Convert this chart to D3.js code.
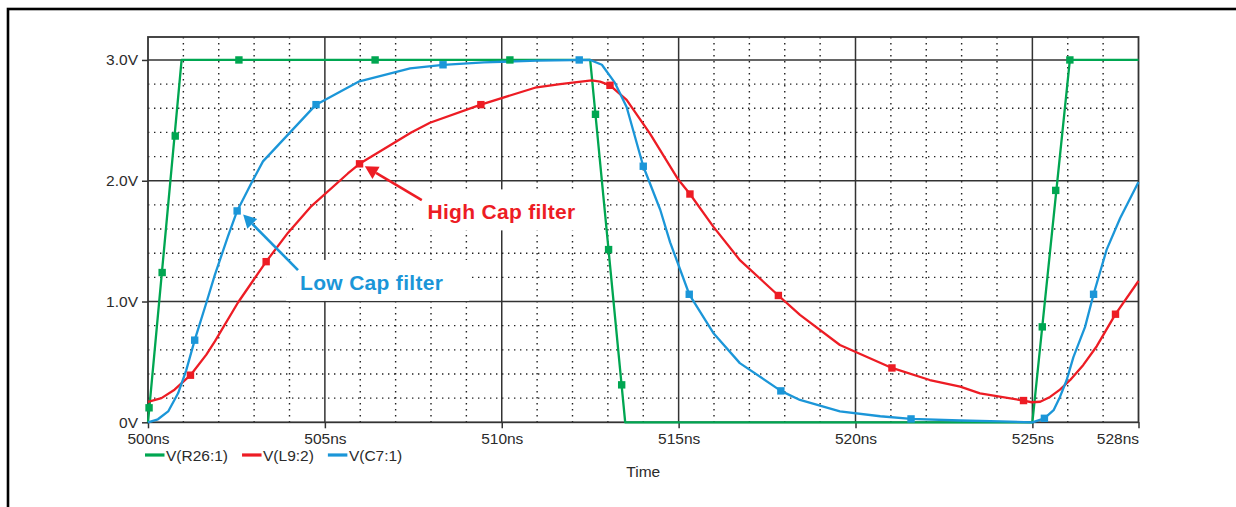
<!DOCTYPE html>
<html>
<head>
<meta charset="utf-8">
<script src="https://cdn.jsdelivr.net/npm/d3@7"></script>
<style>
  html, body { margin: 0; padding: 0; background: #fff; }
  svg { display: block; font-family: "Liberation Sans", Arial, Helvetica, sans-serif; }
</style>
</head>
<body>
<div id="chart"></div>
<script>
const width = 1236;
const height = 507;
const margin = { top: 37, right: 97.5, bottom: 84.7, left: 148 };

// time axis (ns) and voltage axis (V)
const xDomain = [500, 528];
const yDomain = [0, 3.19];
const xTicks = [500, 505, 510, 515, 520, 525, 528];
const yTicks = [0, 1, 2, 3];
const yTickLabels = ["0V", "1.0V", "2.0V", "3.0V"];

const seriesNames = ["V(R26:1)", "V(L9:2)", "V(C7:1)"];
const seriesColors = ["#00a651", "#ed1c24", "#1b96d8"];

// V(R26:1) - input square wave
const greenLine = [
  [500, 0], [500.95, 3], [512.5, 3], [513.49, 0], [525, 0], [526.06, 3], [528, 3],
];
const greenMarks = [
  [500.03, 0.12], [500.4, 1.24], [500.77, 2.37], [502.57, 3], [506.42, 3], [510.23, 3],
  [512.65, 2.55], [513.02, 1.43], [513.39, 0.31], [525.28, 0.79], [525.66, 1.92], [526.06, 3],
];

// V(L9:2) - high cap filter
const redLine = [
  [500, 0.17], [500.38, 0.2], [500.75, 0.27], [501.2, 0.39], [501.65, 0.56], [501.89, 0.67],
  [502.54, 0.99], [503.34, 1.33], [503.96, 1.57], [504.62, 1.79], [505.65, 2.06], [505.98, 2.14],
  [507.44, 2.4], [507.97, 2.48], [509.41, 2.63], [510.94, 2.77], [511.65, 2.8], [512.54, 2.83],
  [512.78, 2.82], [513.06, 2.79], [513.53, 2.67], [514.19, 2.39], [514.99, 2.01], [515.32, 1.89],
  [515.98, 1.62], [516.74, 1.34], [517.82, 1.05], [518.43, 0.89], [519.56, 0.64], [521.03, 0.45],
  [522.1, 0.35], [522.96, 0.295], [523.52, 0.24], [524.75, 0.18], [524.98, 0.166], [525.22, 0.17],
  [525.5, 0.21], [525.78, 0.27], [526.07, 0.35], [526.44, 0.475], [526.82, 0.63], [527.35, 0.895],
  [528, 1.17],
];
const redMarks = [
  [501.2, 0.39], [503.34, 1.33], [505.98, 2.14], [509.41, 2.63], [513.06, 2.79],
  [515.32, 1.89], [517.82, 1.05], [521.03, 0.45], [524.75, 0.18], [527.35, 0.895],
];

// V(C7:1) - low cap filter
const blueLine = [
  [500, 0], [500.28, 0.025], [500.57, 0.09], [500.85, 0.24], [501.08, 0.43], [501.32, 0.68],
  [501.65, 0.99], [501.89, 1.22], [502.26, 1.54], [502.52, 1.75], [502.92, 1.98], [503.25, 2.16],
  [504.75, 2.63], [505.95, 2.82], [507.41, 2.93], [508.34, 2.96], [509.5, 2.98], [511, 2.995],
  [512.5, 3], [512.83, 2.96], [513.2, 2.81], [513.53, 2.61], [514.0, 2.12], [514.48, 1.76],
  [514.76, 1.49], [515.3, 1.06], [515.98, 0.74], [516.73, 0.49], [517.89, 0.26], [518.43, 0.185],
  [519.56, 0.09], [520.7, 0.05], [521.57, 0.028], [522.96, 0.015], [524.09, 0.007], [525, 0],
  [525.34, 0.033], [525.6, 0.1], [525.78, 0.21], [525.97, 0.35], [526.16, 0.54], [526.49, 0.79],
  [526.73, 1.06], [527.1, 1.43], [527.48, 1.69], [528, 1.99],
];
const blueMarks = [
  [501.32, 0.68], [502.52, 1.75], [504.75, 2.63], [508.34, 2.96], [512.19, 3], [514.0, 2.12],
  [515.3, 1.06], [517.89, 0.26], [521.57, 0.028], [525.34, 0.033], [526.73, 1.06],
];

const annotations = [
  { text: "High Cap filter", color: seriesColors[1], at: [507.9, 1.68], tail: [507.74, 1.84], tip: [506.13, 2.12] },
  { text: "Low Cap filter", color: seriesColors[2], at: [504.3, 1.096], tail: [504.24, 1.26], tip: [502.69, 1.72] },
];

const x = d3.scaleLinear().domain(xDomain).range([margin.left, width - margin.right]);
const y = d3.scaleLinear().domain(yDomain).range([height - margin.bottom, margin.top]);

const svg = d3
  .select("#chart")
  .append("svg")
  .attr("width", width)
  .attr("height", height)
  .attr("viewBox", [0, 0, width, height]);

// outer frame (runs off the right and bottom of the picture)
svg
  .append("rect")
  .attr("x", 8)
  .attr("y", 9)
  .attr("width", 1300)
  .attr("height", 600)
  .attr("fill", "none")
  .attr("stroke", "#000")
  .attr("stroke-width", 2.6);

const grid = svg.append("g");

// dotted minor grid
const minorX = d3.range(501, 528).filter((d) => d % 5 !== 0);
const minorY = d3.range(1, 16).filter((i) => i % 5 !== 0).map((i) => i / 5);

grid
  .selectAll(".minor-x")
  .data(minorX)
  .join("line")
  .attr("x1", (d) => x(d))
  .attr("x2", (d) => x(d))
  .attr("y1", y.range()[1])
  .attr("y2", y.range()[0])
  .attr("stroke", "#222")
  .attr("stroke-width", 1.4)
  .attr("stroke-dasharray", "1.4 4.6");

grid
  .selectAll(".minor-y")
  .data(minorY)
  .join("line")
  .attr("x1", x.range()[0])
  .attr("x2", x.range()[1])
  .attr("y1", (d) => y(d))
  .attr("y2", (d) => y(d))
  .attr("stroke", "#222")
  .attr("stroke-width", 1.4)
  .attr("stroke-dasharray", "1.4 4.6");

// solid major grid
grid
  .selectAll(".major-x")
  .data([505, 510, 515, 520, 525])
  .join("line")
  .attr("x1", (d) => x(d))
  .attr("x2", (d) => x(d))
  .attr("y1", y.range()[1])
  .attr("y2", y.range()[0])
  .attr("stroke", "#333")
  .attr("stroke-width", 1.5);

grid
  .selectAll(".major-y")
  .data([1, 2, 3])
  .join("line")
  .attr("x1", x.range()[0])
  .attr("x2", x.range()[1])
  .attr("y1", (d) => y(d))
  .attr("y2", (d) => y(d))
  .attr("stroke", "#333")
  .attr("stroke-width", 1.5);

// annotation labels on white boxes (drawn under the curves and arrows)
const noteG = svg.append("g");
const noteTexts = annotations.map((a) =>
  noteG
    .append("text")
    .attr("x", x(a.at[0]))
    .attr("y", y(a.at[1]))
    .attr("fill", a.color)
    .attr("font-size", "21px")
    .attr("font-weight", "bold")
    .attr("letter-spacing", "0.3px")
    .text(a.text)
);
noteTexts.forEach((t, i) => {
  const len = t.node().getComputedTextLength();
  const a = annotations[i];
  noteG
    .insert("rect", "text")
    .attr("x", x(a.at[0]) - 14)
    .attr("y", y(a.at[1]) - 30)
    .attr("width", len + 40)
    .attr("height", 41)
    .attr("fill", "#fff");
});

// plot frame
svg
  .append("rect")
  .attr("x", x.range()[0])
  .attr("y", y.range()[1])
  .attr("width", x.range()[1] - x.range()[0])
  .attr("height", y.range()[0] - y.range()[1])
  .attr("fill", "none")
  .attr("stroke", "#333")
  .attr("stroke-width", 1.8);

// axes
const xAxis = (g) =>
  g
    .attr("transform", `translate(0,${y.range()[0]})`)
    .call(d3.axisBottom(x).tickValues(xTicks).tickFormat((d) => d + "ns").tickSize(6).tickPadding(5))
    .attr("font-family", null)
    .call((g) => g.select(".domain").remove())
    .call((g) => g.selectAll(".tick line").attr("stroke", "#333").attr("stroke-width", 1.5))
    .call((g) => g.selectAll("text").attr("font-size", "15.5px").attr("fill", "#2b2b2b"))
    .call((g) => g.select(".tick:last-of-type text").attr("text-anchor", "end"));
svg.append("g").call(xAxis);

const yAxis = (g) =>
  g
    .attr("transform", `translate(${x.range()[0]},0)`)
    .call(d3.axisLeft(y).tickValues(yTicks).tickFormat((d, i) => yTickLabels[i]).tickSize(6).tickPadding(4))
    .attr("font-family", null)
    .call((g) => g.select(".domain").remove())
    .call((g) => g.selectAll(".tick line").attr("stroke", "#333").attr("stroke-width", 1.5))
    .call((g) => g.selectAll("text").attr("font-size", "15.5px").attr("fill", "#2b2b2b"));
svg.append("g").call(yAxis);

// series
const line = d3
  .line()
  .x((d) => x(d[0]))
  .y((d) => y(d[1]));

const lines = [greenLine, redLine, blueLine];
const marks = [greenMarks, redMarks, blueMarks];

lines.forEach((data, i) => {
  svg
    .append("path")
    .datum(data)
    .attr("d", line)
    .attr("fill", "none")
    .attr("stroke", seriesColors[i])
    .attr("stroke-width", 2.3)
    .attr("stroke-linejoin", "round");
});

marks.forEach((data, i) => {
  svg
    .append("g")
    .selectAll("rect")
    .data(data)
    .join("rect")
    .attr("x", (d) => x(d[0]) - 3.7)
    .attr("y", (d) => y(d[1]) - 3.7)
    .attr("width", 7.4)
    .attr("height", 7.4)
    .attr("fill", seriesColors[i]);
});

// annotation arrows
annotations.forEach((a) => {
  const tx = x(a.tip[0]), ty = y(a.tip[1]);
  const sx = x(a.tail[0]), sy = y(a.tail[1]);
  const len = Math.hypot(tx - sx, ty - sy);
  const ux = (tx - sx) / len, uy = (ty - sy) / len;
  const bx = tx - ux * 13, by = ty - uy * 13;
  svg
    .append("line")
    .attr("x1", sx)
    .attr("y1", sy)
    .attr("x2", bx)
    .attr("y2", by)
    .attr("stroke", a.color)
    .attr("stroke-width", 2.6);
  svg
    .append("polygon")
    .attr("points", [
      [tx, ty],
      [bx - uy * 7, by + ux * 7],
      [bx + uy * 7, by - ux * 7],
    ].map((p) => p.join(",")).join(" "))
    .attr("fill", a.color);
});

// legend
const legend = svg.append("g").attr("transform", "translate(145,455)");
let offset = 0;
seriesNames.forEach((name, i) => {
  legend
    .append("line")
    .attr("x1", offset)
    .attr("x2", offset + 19.5)
    .attr("stroke", seriesColors[i])
    .attr("stroke-width", 3.2);
  const t = legend
    .append("text")
    .attr("x", offset + 21)
    .attr("y", 6)
    .attr("font-size", "15.5px")
    .attr("fill", "#2b2b2b")
    .text(name);
  offset += 21 + t.node().getComputedTextLength() + 14;
});

svg
  .append("text")
  .attr("x", (x.range()[0] + x.range()[1]) / 2)
  .attr("y", 476.7)
  .attr("text-anchor", "middle")
  .attr("font-size", "15.5px")
  .attr("fill", "#2b2b2b")
  .text("Time");
</script>
</body>
</html>
